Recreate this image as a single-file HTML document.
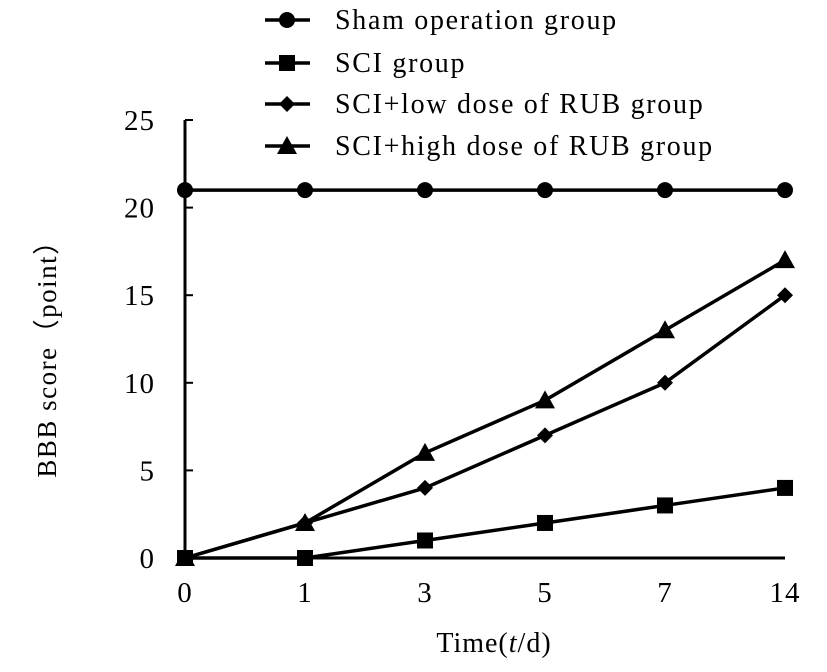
<!DOCTYPE html>
<html><head><meta charset="utf-8"><style>
html,body{margin:0;padding:0;background:#fff;}
svg{display:block;font-family:"Liberation Serif",serif;}
</style></head><body>
<svg id="chart" width="827" height="672" viewBox="0 0 827 672" xmlns="http://www.w3.org/2000/svg"></svg>
<script>
const categories = ["0","1","3","5","7","14"];
const seriesNames = ["Sham operation group","SCI group","SCI+low dose of RUB group","SCI+high dose of RUB group"];
const shamValues = [21,21,21,21,21,21];
const sciValues = [0,0,1,2,3,4];
const lowValues = [0,2,4,7,10,15];
const highValues = [0,2,6,9,13,17];
const yTicks = [0,5,10,15,20,25];

const NS="http://www.w3.org/2000/svg";
const svg=document.getElementById('chart');
const x0=185,xStep=120,y0=558,yTop=120,yMax=25;
function xs(i){return x0+i*xStep;}
function ys(v){return y0-(v/yMax)*(y0-yTop);}
function mk(tag,attrs,parent){const e=document.createElementNS(NS,tag);for(const k in attrs)e.setAttribute(k,attrs[k]);(parent||svg).appendChild(e);return e;}

const ax=mk('line',{x1:x0,y1:yTop,x2:x0,y2:y0,stroke:'#000','stroke-width':3});


const bx=mk('line',{x1:x0,y1:y0,x2:xs(5),y2:y0,stroke:'#000','stroke-width':3});



yTicks.forEach(v=>{
  const t=mk('line',{x1:x0,y1:ys(v),x2:x0+8,y2:ys(v),stroke:'#000','stroke-width':2});
  
  
  const l=mk('text',{x:155,y:ys(v)+10,'text-anchor':'end','font-size':29,'letter-spacing':1});
  l.textContent=v;
  
  
});
categories.forEach((c,i)=>{
  const l=mk('text',{x:xs(i),y:602,'text-anchor':'middle','font-size':29,'letter-spacing':1});
  l.textContent=c;
  
  
});

const xt=mk('text',{x:494,y:652,'text-anchor':'middle','font-size':28,'letter-spacing':1});
xt.innerHTML='Time(<tspan font-style="italic">t</tspan>/d)';


const yt=mk('text',{x:0,y:0,'text-anchor':'middle','font-size':27,'letter-spacing':1.5,transform:'translate(56,352) rotate(-90)'});
yt.textContent='BBB score\uff08point\uff09';



function marker(type,cx,cy,g){
  if(type==='circle') return mk('circle',{cx:cx,cy:cy,r:8,fill:'#000'},g);
  if(type==='square') return mk('rect',{x:cx-8,y:cy-8,width:16,height:16,fill:'#000'},g);
  if(type==='diamond') return mk('polygon',{points:`${cx},${cy-8} ${cx+8},${cy} ${cx},${cy+8} ${cx-8},${cy}`,fill:'#000'},g);
  return mk('polygon',{points:`${cx},${cy-10} ${cx+10},${cy+8} ${cx-10},${cy+8}`,fill:'#000'},g);
}
const allSeries=[[shamValues,'circle','sham'],[sciValues,'square','sci'],[lowValues,'diamond','low-dose'],[highValues,'triangle','high-dose']];
allSeries.forEach(([vals,m,nm])=>{
  const g=mk('g',{});
  
  
  const p=mk('polyline',{points:vals.map((v,i)=>xs(i)+','+ys(v)).join(' '),fill:'none',stroke:'#000','stroke-width':3.5},g);
  
  
  vals.forEach((v,i)=>{
    const e=marker(m,xs(i),ys(v),g);
    
    
  });
});

const legY=[20,63,104,146];
const types=['circle','square','diamond','triangle'];
seriesNames.forEach((n,i)=>{
  const g=mk('g',{});
  
  
  mk('line',{x1:265,y1:legY[i],x2:310,y2:legY[i],stroke:'#000','stroke-width':3.5},g);
  marker(types[i],287,legY[i],g);
  const t=mk('text',{x:335,y:legY[i]+9,'font-size':28,'letter-spacing':1.7},g);
  t.textContent=n;
});
</script>
</body></html>
